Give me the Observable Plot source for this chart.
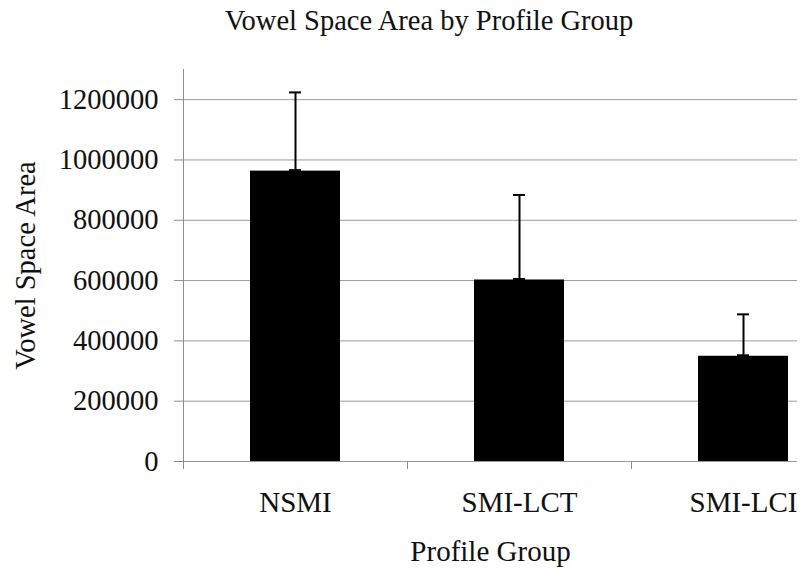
<!DOCTYPE html>
<html>
<head>
<meta charset="utf-8">
<script src="https://cdn.jsdelivr.net/npm/d3@7"></script>
<script src="https://cdn.jsdelivr.net/npm/@observablehq/plot@0.6"></script>
<style>
  html, body { margin: 0; padding: 0; background: #fff; }
  #wrap { width: 801px; }
  #title { height: 45px; width: 858px; text-align: center; font-family: "Liberation Serif", "Times New Roman", serif; font-size: 28.5px; line-height: 30px; padding-top: 6px; box-sizing: border-box; color: #111; }
  svg { display: block; }
  #chart svg, #chart svg text { font-family: "Liberation Serif", "Times New Roman", serif !important; }
</style>
</head>
<body>
<div id="wrap">
  <div id="title">Vowel Space Area by Profile Group</div>
  <div id="chart"></div>
</div>
<script>
const groups = ["NSMI", "SMI-LCT", "SMI-LCI"];
const means = [963000, 602000, 349000];
const errors = [261000, 282000, 139000];
const yTicks = [0, 200000, 400000, 600000, 800000, 1000000, 1200000];

const data = groups.map((g, i) => ({group: g, mean: means[i], upper: means[i] + errors[i]}));

const xRange = [183, 855];
const step = (xRange[1] - xRange[0]) / groups.length;
const axisGray = "#8c8c8c";
const serif = "'Liberation Serif', 'Times New Roman', serif";

const chart = Plot.plot({
  width: 801,
  height: 525,
  marginTop: 24,
  marginBottom: 109,
  marginLeft: 183,
  marginRight: 4,
  style: {fontFamily: serif, fontSize: "28px", background: "#fff", color: "#111"},
  x: {type: "band", domain: groups, range: xRange, paddingInner: 0.6, paddingOuter: 0.3, axis: null},
  y: {domain: [0, 1300000], axis: null},
  marks: [
    Plot.gridY(yTicks, {stroke: "#9a9a9a", strokeOpacity: 1}),
    Plot.frame({anchor: "left", stroke: axisGray}),
    Plot.axisY(yTicks, {tickSize: 9, tickPadding: 16, tickFormat: d3.format("d"), stroke: axisGray,
      fontFamily: serif, fontSize: 28.5,
      label: "Vowel Space Area", labelAnchor: "center", labelArrow: "none", labelOffset: 169, fill: "#111"}),
    Plot.axisX({tickSize: 8, tickFormat: () => "", dx: -step / 2, stroke: axisGray, label: null}),
    Plot.axisX({tickSize: 0, tickPadding: 30, fill: "#111", fontFamily: serif, fontSize: 29,
      label: "Profile Group", labelAnchor: "center", labelArrow: "none", labelOffset: 99}),
    Plot.barY(data, {x: "group", y: "mean", fill: "#000"}),
    Plot.ruleX(data, {x: "group", y1: "mean", y2: "upper", stroke: "#000", strokeWidth: 2}),
    Plot.tickY(data, {x: "group", y: "upper", stroke: "#000", strokeWidth: 2, inset: 39}),
    Plot.tickY(data, {x: "group", y: "mean", stroke: "#000", strokeWidth: 2, inset: 39, dy: -1})
  ]
});
document.getElementById("chart").appendChild(chart);
</script>
</body>
</html>
